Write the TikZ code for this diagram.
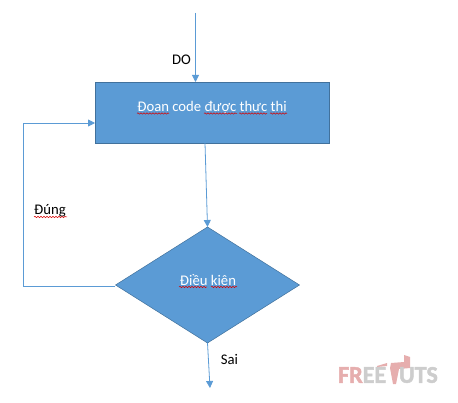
\documentclass[tikz,border=0pt]{standalone}
\usepackage{fontspec}
\setmainfont{Carlito}
\newfontfamily\markfont[BoldFeatures={FakeBold=2}]{Carlito}
\usepackage{xcolor}
\usetikzlibrary{arrows.meta}
\usetikzlibrary{shapes.geometric}
\usetikzlibrary{decorations.pathmorphing}
\definecolor{shapeblue}{HTML}{5B9BD5}
\definecolor{edgeblue}{HTML}{41719C}
\definecolor{markpink}{HTML}{E6AEAE}
\definecolor{markgray}{HTML}{CDCDCD}
\tikzset{
    flowline/.style={draw=shapeblue, line width=0.8pt},
    flowarrow/.style={flowline, -{Triangle[width=7pt,length=7pt]}},
    codebox/.style={rectangle, draw=edgeblue, fill=shapeblue, line width=0.7pt, minimum width=234pt, minimum height=61pt, inner sep=0pt, outer sep=0pt},
    condbox/.style={diamond, draw=edgeblue, fill=shapeblue, line width=0.5pt, minimum width=184pt, minimum height=116pt, aspect=1.586, inner sep=0pt, outer sep=0pt},
    lbl/.style={font=\fontsize{14.7}{17}\selectfont, inner sep=0pt},
    marktxt/.style={font=\fontsize{24}{24}\selectfont\markfont\bfseries, inner sep=0pt, text=markgray},
    squiggle/.style={draw=red!85!black, line width=0.5pt, decorate, decoration={snake, amplitude=0.7pt, segment length=3pt}},
}
\begin{document}
\begin{tikzpicture}[x=1pt, y=-1pt]
    \useasboundingbox (0,0) rectangle (458,403);

    \node[codebox] (code) at (212,112.5) {};
    \node[condbox] (cond) at (207.5,285) {};
    \node[lbl, text=white] (codetxt) at (212,107.5) {Đoan code được thưc thi};
    \node[lbl, text=white] (condtxt) at (208,280) {Điều kiên};
    \node[lbl] (do) at (181.5,60) {DO};
    \node[lbl] (dung) at (50,211) {Đúng};
    \node[lbl] (sai) at (229.5,359.5) {Sai};

    \coordinate (start) at (195.5,13);
    \coordinate (codein) at (195.5,82);
    \coordinate (codeout) at (205,143);
    \coordinate (condout) at (115,286);
    \coordinate (backlow) at (23,286);
    \coordinate (backup) at (23,123);
    \coordinate (backin) at (95,123);
    \coordinate (stop) at (210,388);

    \draw[flowarrow] (start) -- (codein);
    \draw[flowarrow] (codeout) -- (cond.north);
    \draw[flowarrow] (condout) -- (backlow) -- (backup) -- (backin);
    \draw[flowarrow] (cond.south) -- (stop);

    % spell check marks
    \draw[squiggle] (137,113.5) -- (169,113.5);
    \draw[squiggle] (204,113.5) -- (237,113.5);
    \draw[squiggle] (239,113.5) -- (267,113.5);
    \draw[squiggle] (270,113.5) -- (287,113.5);
    \draw[squiggle] (179,287) -- (207,287);
    \draw[squiggle] (211,287) -- (237,287);
    \draw[squiggle] (34,217) -- (67,217);

    % watermark
    \fill[markpink] (391,363) -- (404,362) -- (404,355) -- (410,357) -- (410,368) -- (399,369) -- (396,384) -- (393,384) -- (390,368) -- cycle;
    \fill[markpink] (377,366) -- (387,363) -- (387,366) -- (377,367) -- cycle;
    \node[marktxt, anchor=west] (free) at (338,375) {\textcolor{markpink}{FR}EE};
    \node[marktxt, anchor=east] (uts) at (438,375) {UTS};
\end{tikzpicture}
\end{document}
